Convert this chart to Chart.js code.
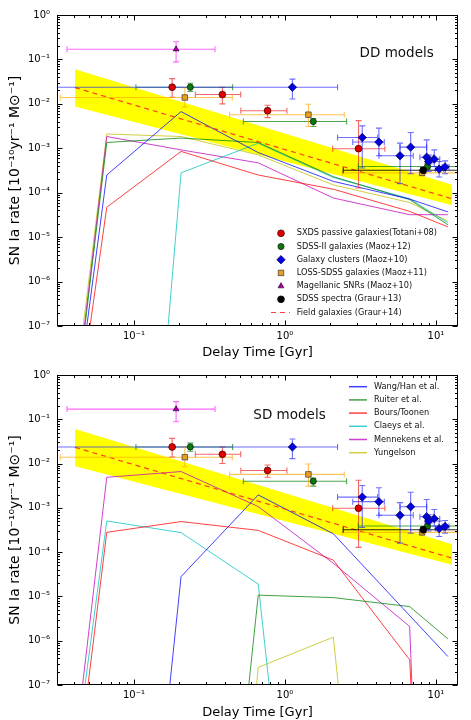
<!DOCTYPE html>
<html>
<head>
<meta charset="utf-8">
<script src="https://cdn.jsdelivr.net/npm/chart.js@4.4.1/dist/chart.umd.min.js"></script>
<style>
html, body { margin: 0; padding: 0; background: #fff; }
canvas { display: block; }
</style>
</head>
<body>
<canvas id="ddChart" width="471" height="360"></canvas>
<canvas id="sdChart" width="471" height="360"></canvas>
<script>
// tick values
const xTicks = [0.1, 1, 10];
const yTicks = [1e-7, 1e-6, 1e-5, 1e-4, 1e-3, 1e-2, 1e-1, 1];

// observations: [t, tLo, tHi, rate, rateLo, rateHi]  (Gyr, 1e-10 /yr /Msun)
const sxds = [
  [0.179, 0.179, 0.179, 0.0237, 0.014, 0.037],
  [0.385, 0.255, 0.509, 0.0162, 0.010, 0.0237],
  [0.767, 0.51, 1.03, 0.0070, 0.0049, 0.0093],
  [3.07, 2.07, 4.59, 0.00098, 0.000128, 0.0042]
];
const sdss2 = [
  [0.236, 0.103, 0.45, 0.0237, 0.019, 0.029],
  [1.54, 0.53, 2.56, 0.0040, 0.0031, 0.0047],
  [8.8, 3.06, 20, 0.00039, 0.00034, 0.00045]
];
const clusters = [
  [1.12, 0.02, 2.23, 0.0237, 0.0129, 0.036],
  [3.25, 2.23, 4.11, 0.00175, 0.00036, 0.0032],
  [4.19, 2.81, 4.55, 0.00138, 0.00068, 0.00284],
  [5.78, 4.19, 7.08, 0.00068, 0.00016, 0.00131],
  [6.8, 5.78, 8.68, 0.00106, 0.000267, 0.00226],
  [8.68, 7.83, 9.6, 0.00063, 0.00036, 0.00155],
  [8.95, 8.5, 9.4, 0.000505, 0.0003, 0.0007],
  [9.75, 9.12, 10.6, 0.00057, 0.00039, 0.00092],
  [10.5, 9.9, 11.2, 0.00034, 0.000225, 0.000505],
  [11.5, 11.0, 12.2, 0.00038, 0.000267, 0.00052]
];
const lossSdss = [
  [0.217, 0.0325, 0.448, 0.0139, 0.0085, 0.023],
  [1.43, 0.43, 2.47, 0.0057, 0.0031, 0.0098],
  [8.1, 2.4, 20, 0.00028, 0.00024, 0.00033]
];
const magellanic = [[0.19, 0.036, 0.344, 0.17, 0.088, 0.25]];
const sdssSpectra = [[8.24, 2.43, 20, 0.00032, 0.00028, 0.00037]];

// Graur+14 field galaxies fit and its band: [t, rate]
const graur14 = [[0.0407, 0.0232], [13.4, 6.97e-5]];
const graurBandHi = [[0.0407, 0.06], [12.8, 1.5e-4]];
const graurBandLo = [[0.0407, 0.0087], [12.8, 5.2e-5]];

// DD model DTDs: [t, rate]
const ddWang = [[0.0407, 1e-9], [0.066, 2.5e-4], [0.205, 6.7e-3], [0.665, 8.0e-4], [2.09, 1.8e-4], [6.7, 7.2e-5], [12, 3.7e-5]];
const ddRuiter = [[0.0403, 1e-9], [0.066, 1.35e-3], [0.205, 1.7e-3], [0.665, 1.35e-3], [2.09, 2.3e-4], [6.7, 7.0e-5], [12, 1.9e-5]];
const ddBours = [[0.0423, 1e-9], [0.066, 4.7e-5], [0.205, 8.5e-4], [0.665, 2.5e-4], [2.09, 1.2e-4], [6.7, 3.8e-5], [12, 1.7e-5]];
const ddClaeys = [[0.15, 1e-9], [0.205, 2.8e-4], [0.665, 1.3e-3], [2.09, 2.2e-4], [6.7, 7.3e-5], [12, 2.1e-5]];
const ddMennekens = [[0.040, 1e-9], [0.066, 1.84e-3], [0.205, 9.2e-4], [0.665, 4.7e-4], [2.09, 7.6e-5], [6.7, 3.2e-5], [12, 3.2e-5]];
const ddYungelson = [[0.039, 1e-9], [0.066, 2.1e-3], [0.205, 1.84e-3], [0.665, 7.1e-4], [2.09, 1.5e-4], [6.7, 6.0e-5], [12, 2.3e-5]];

// SD model DTDs: [t, rate]
const sdWang = [[0.15, 1e-9], [0.205, 2.8e-5], [0.665, 1.96e-3], [2.09, 2.6e-4], [12, 4.4e-7]];
const sdRuiter = [[0.5, 1e-9], [0.665, 1.07e-5], [2.09, 9.4e-6], [6.7, 5.9e-6], [12, 1.1e-6]];
const sdBours = [[0.042, 1e-9], [0.066, 2.8e-4], [0.205, 4.9e-4], [0.665, 3.1e-4], [2.09, 6.6e-5], [6.7, 3.7e-7], [7.3, 1e-9]];
const sdClaeys = [[0.0396, 1e-9], [0.066, 5.06e-4], [0.205, 2.76e-4], [0.665, 1.9e-5], [0.91, 1e-9]];
const sdMennekens = [[0.039, 1e-9], [0.066, 4.9e-3], [0.205, 6.6e-3], [0.665, 1.07e-3], [2.09, 5.6e-5], [6.7, 2.1e-6], [7.3, 1e-9]];
const sdYungelson = [[0.57, 1e-9], [0.665, 2.5e-7], [2.09, 1.2e-6], [2.6, 1e-9]];

const modelLabels = ['Wang/Han et al.', 'Ruiter et al.', 'Bours/Toonen', 'Claeys et al.', 'Mennekens et al.', 'Yungelson'];
const modelColors = ['rgba(0,0,255,0.75)', 'rgba(0,128,0,0.75)', 'rgba(255,0,0,0.75)',
                     'rgba(0,191,191,0.75)', 'rgba(191,0,191,0.75)', 'rgba(191,191,0,0.75)'];

const obsSets = [
  {label: 'SXDS passive galaxies(Totani+08)', rows: sxds, style: 'circle', r: 3.4, fill: '#e00000', edge: '#300', err: 'rgba(240,40,40,0.7)', layer: 1},
  {label: 'SDSS-II galaxies (Maoz+12)', rows: sdss2, style: 'circle', r: 3.1, fill: '#0a7a0a', edge: '#111', err: 'rgba(0,128,0,0.7)', layer: 2},
  {label: 'Galaxy clusters (Maoz+10)', rows: clusters, style: 'rectRot', r: 4.2, fill: '#0000e0', edge: '#000050', err: 'rgba(30,30,255,0.65)', layer: 6},
  {label: 'LOSS-SDSS galaxies (Maoz+11)', rows: lossSdss, style: 'rect', r: 3.9, fill: '#e8a020', edge: '#333', err: 'rgba(255,165,0,0.65)', layer: 3},
  {label: 'Magellanic SNRs (Maoz+10)', rows: magellanic, style: 'triangle', r: 3.4, fill: '#a000a0', edge: '#400040', err: 'rgba(255,40,255,0.7)', layer: 4},
  {label: 'SDSS spectra (Graur+13)', rows: sdssSpectra, style: 'circle', r: 3.4, fill: '#000', edge: '#000', err: 'rgba(0,0,0,0.85)', layer: 5}
];
const fieldLabel = 'Field galaxies (Graur+14)';

const FONT = '"DejaVu Sans", "Liberation Sans", sans-serif';
const supDigits = '⁰¹²³⁴⁵⁶⁷⁸⁹';
const sup = n => String(n).replace('-', '⁻').split('').map(c => supDigits[c] ?? c).join('');
const decadeLabel = v => '10' + sup(Math.round(Math.log10(v)));
const pts = arr => arr.map(([x, y]) => ({x, y}));

function drawErrorBars(chart) {
  const {ctx, chartArea: a, scales: {x, y}} = chart;
  const cap = 3;
  ctx.save();
  ctx.beginPath();
  ctx.rect(a.left, a.top, a.right - a.left, a.bottom - a.top);
  ctx.clip();
  ctx.lineWidth = 1.1;
  chart.data.datasets.filter(d => d.errs).sort((p, q) => p.errLayer - q.errLayer).forEach(d => {
    ctx.strokeStyle = d.errColor;
    d.errs.forEach(([t, tLo, tHi, r, rLo, rHi]) => {
      const px = x.getPixelForValue(t), py = y.getPixelForValue(r);
      const x0 = x.getPixelForValue(tLo), x1 = x.getPixelForValue(tHi);
      const y0 = y.getPixelForValue(rLo), y1 = y.getPixelForValue(rHi);
      ctx.beginPath();
      if (tHi > tLo) {
        ctx.moveTo(x0, py); ctx.lineTo(x1, py);
        ctx.moveTo(x0, py - cap); ctx.lineTo(x0, py + cap);
        ctx.moveTo(x1, py - cap); ctx.lineTo(x1, py + cap);
      }
      ctx.moveTo(px, y0); ctx.lineTo(px, y1);
      ctx.moveTo(px - cap, y0); ctx.lineTo(px + cap, y0);
      ctx.moveTo(px - cap, y1); ctx.lineTo(px + cap, y1);
      ctx.stroke();
    });
  });
  ctx.restore();
}

function drawFrame(chart) {
  const {ctx, chartArea: a, scales: {x, y}} = chart;
  ctx.save();
  ctx.strokeStyle = '#000';
  ctx.lineWidth = 1;
  const L = Math.round(a.left) + 0.5, R = Math.round(a.right) - 0.5;
  const T = Math.round(a.top) + 0.5, B = Math.round(a.bottom) - 0.5;
  ctx.strokeRect(L, T, R - L, B - T);
  ctx.beginPath();
  for (let d = -2; d <= 1; d++) {
    for (let m = 1; m <= 9; m++) {
      const v = m * Math.pow(10, d);
      if (v < x.min || v > x.max) continue;
      const p = Math.round(x.getPixelForValue(v)) + 0.5;
      const len = m === 1 ? 5 : 2.5;
      ctx.moveTo(p, B); ctx.lineTo(p, B - len);
      ctx.moveTo(p, T); ctx.lineTo(p, T + len);
    }
  }
  for (let d = -7; d <= 0; d++) {
    for (let m = 1; m <= 9; m++) {
      const v = m * Math.pow(10, d);
      if (v < y.min * 0.999 || v > y.max * 1.001) continue;
      const p = Math.round(y.getPixelForValue(v)) + 0.5;
      const len = m === 1 ? 5 : 2.5;
      ctx.moveTo(L, p); ctx.lineTo(L + len, p);
      ctx.moveTo(R, p); ctx.lineTo(R - len, p);
    }
  }
  ctx.stroke();
  ctx.restore();
}

function drawDDLegend(chart) {
  const ctx = chart.ctx;
  ctx.save();
  ctx.font = '8.2px ' + FONT;
  ctx.textBaseline = 'middle';
  obsSets.forEach((o, i) => {
    const yy = 233.3 + i * 13.2;
    ctx.fillStyle = o.fill;
    ctx.strokeStyle = o.edge;
    ctx.lineWidth = 0.7;
    Chart.helpers.drawPoint(ctx, {pointStyle: o.style, radius: o.r, rotation: 0, borderWidth: 0.7}, 281, yy);
    ctx.fillStyle = '#111';
    ctx.fillText(o.label, 296.7, yy);
  });
  const yy = 233.3 + 6 * 13.2;
  ctx.strokeStyle = 'rgba(255,30,30,0.85)';
  ctx.lineWidth = 1.2;
  ctx.setLineDash([5, 4]);
  ctx.beginPath(); ctx.moveTo(271, yy); ctx.lineTo(290, yy); ctx.stroke();
  ctx.setLineDash([]);
  ctx.fillStyle = '#111';
  ctx.fillText(fieldLabel, 296.7, yy);
  ctx.font = '13.5px ' + FONT;
  ctx.textAlign = 'center';
  ctx.fillText('DD models', 396.7, 53.3);
  ctx.restore();
}

function drawSDLegend(chart) {
  const ctx = chart.ctx;
  ctx.save();
  ctx.font = '8.2px ' + FONT;
  ctx.textBaseline = 'middle';
  modelLabels.forEach((lab, i) => {
    const yy = 26.7 + i * 13.2;
    ctx.strokeStyle = modelColors[i];
    ctx.lineWidth = 1.5;
    ctx.beginPath(); ctx.moveTo(349, yy); ctx.lineTo(367, yy); ctx.stroke();
    ctx.fillStyle = '#111';
    ctx.fillText(lab, 374, yy);
  });
  ctx.font = '13.5px ' + FONT;
  ctx.textAlign = 'center';
  ctx.fillText('SD models', 289.5, 55);
  ctx.restore();
}

function makePanel(id, models, isDD) {
  const xAxisH = isDD ? 34 : 35;
  const datasets = [];
  datasets.push({label: 'band hi', data: pts(graurBandHi), showLine: true, borderWidth: 0,
                 pointRadius: 0, fill: false, order: 100});
  datasets.push({label: 'band lo', data: pts(graurBandLo), showLine: true, borderWidth: 0,
                 pointRadius: 0, fill: '-1', backgroundColor: '#ffff00', order: 99});
  models.forEach((m, i) => {
    datasets.push({label: modelLabels[i], data: pts(m), showLine: true, borderColor: modelColors[i],
                   borderWidth: 1, pointRadius: 0, fill: false, order: 50});
  });
  datasets.push({label: fieldLabel, data: pts(graur14), showLine: true, borderColor: 'rgba(255,30,30,0.85)',
                 borderWidth: 1.2, borderDash: [5, 4], pointRadius: 0, fill: false, order: 40});
  obsSets.forEach((o, i) => {
    datasets.push({label: o.label, data: o.rows.map(r => ({x: r[0], y: r[3]})),
                   pointStyle: o.style, pointRadius: o.r, backgroundColor: o.fill,
                   borderColor: o.edge, borderWidth: 0.7, order: 10 - i,
                   errs: o.rows, errColor: o.err, errLayer: o.layer});
  });

  const decor = {
    id: 'decor',
    afterDatasetDraw(chart, args) {
      if (chart.data.datasets[args.index].label === fieldLabel) drawErrorBars(chart);
    },
    afterDraw(chart) {
      drawFrame(chart);
      if (isDD) drawDDLegend(chart); else drawSDLegend(chart);
    }
  };

  return new Chart(document.getElementById(id), {
    type: 'scatter',
    data: {datasets},
    options: {
      responsive: false,
      animation: false,
      layout: {padding: {top: 15, right: 13, left: 0, bottom: 0}},
      plugins: {legend: {display: false}, tooltip: {enabled: false}},
      scales: {
        x: {
          type: 'logarithmic', min: 0.0309, max: 14.0,
          afterBuildTicks: s => { s.ticks = xTicks.map(v => ({value: v})); },
          afterFit: s => { s.height = xAxisH; },
          grid: {display: false, drawTicks: false},
          border: {display: false},
          ticks: {callback: v => decadeLabel(v), color: '#000', padding: 4,
                  maxRotation: 0, autoSkip: false, font: {family: FONT, size: 10}},
          title: {display: true, text: 'Delay Time [Gyr]', color: '#000',
                  padding: {top: 0, bottom: 0}, font: {family: FONT, size: 13}}
        },
        y: {
          type: 'logarithmic', min: 1e-7, max: 1,
          afterBuildTicks: s => { s.ticks = yTicks.map(v => ({value: v})); },
          afterFit: s => { s.width = 57; },
          grid: {display: false, drawTicks: false},
          border: {display: false},
          ticks: {callback: v => decadeLabel(v), color: '#000', padding: 7,
                  autoSkip: false, font: {family: FONT, size: 10}},
          title: {display: true, text: 'SN Ia rate [10⁻¹⁰yr⁻¹ M⊙⁻¹]', color: '#000',
                  padding: {top: 7, bottom: 0}, font: {family: FONT, size: 14}}
        }
      }
    },
    plugins: [decor]
  });
}

makePanel('ddChart', [ddWang, ddRuiter, ddBours, ddClaeys, ddMennekens, ddYungelson], true);
makePanel('sdChart', [sdWang, sdRuiter, sdBours, sdClaeys, sdMennekens, sdYungelson], false);
</script>
</body>
</html>
